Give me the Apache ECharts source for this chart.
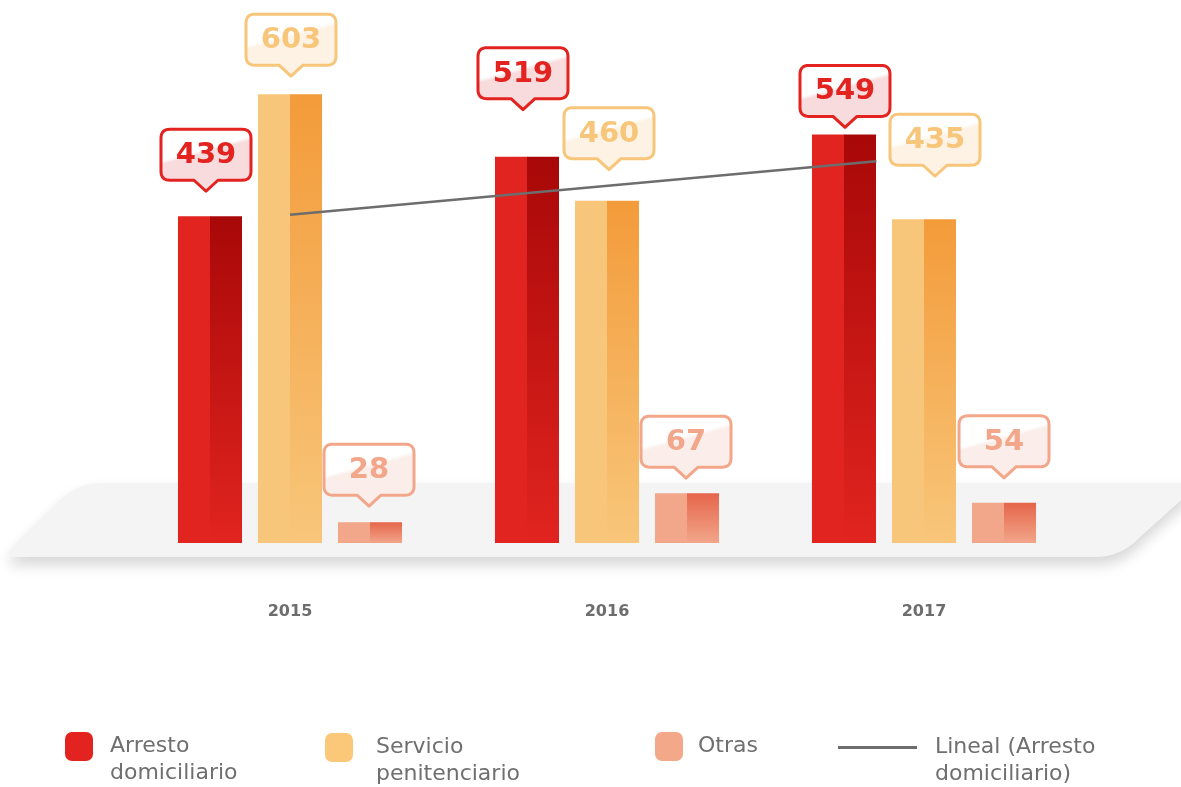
<!DOCTYPE html>
<html>
<head>
<meta charset="utf-8">
<script src="https://cdn.jsdelivr.net/npm/echarts@6/dist/echarts.min.js"></script>
<style>
html,body{margin:0;padding:0;background:#ffffff;}
#chart{width:1181px;height:787px;}
</style>
</head>
<body>
<div id="chart"></div>
<script>
// ---- data ----
const categories = ['2015', '2016', '2017'];
const arresto = [439, 519, 549];
const servicio = [603, 460, 435];
const otras = [28, 67, 54];
// linear trend of "Arresto domiciliario" (x in years, y in value)
const trendYears = [2015, 2016.85];
const trendValues = [441, 513];
const seriesNames = ['Arresto\ndomiciliario', 'Servicio\npenitenciario', 'Otras', 'Lineal (Arresto\ndomiciliario)'];

// ---- layout of the value callouts (pixels above bar top, horizontal shift) ----
const calloutLift = { arresto: [25, 47, 7], servicio: [18, 31, 43], otras: [16, 15, 25] };
const calloutShift = { arresto: [-4, -4, 1], servicio: [1, 2, 11], otras: [-1, -1, 0] };

const palettes = {
  arresto:  { left: '#e1241f', dark: '#a80808', border: '#e2231f', tint: '#f8dcdd', text: '#e2231f', legend: '#e2231f' },
  servicio: { left: '#f8c67a', dark: '#f39b3a', border: '#f8c67a', tint: '#fdf2e4', text: '#f8c67a', legend: '#fac878' },
  otras:    { left: '#f2a68a', dark: '#e5654a', border: '#f2a68a', tint: '#fbeeea', text: '#f2a68a', legend: '#f3a88a' }
};

function makeRender(key, slot) {
  const pal = palettes[key];
  return function (params, api) {
    const i = api.value(0);
    const v = api.value(1);
    const band = api.size([1, 0])[0];
    const base = api.coord([i, 0]);
    const top = api.coord([i, v]);
    const w = band * 0.202;
    const cx = base[0] + slot * band * 0.2524;
    const x0 = cx - w / 2;
    const h = base[1] - top[1];
    const di = params.dataIndex;
    const children = [
      { type: 'rect', shape: { x: x0, y: top[1], width: w / 2 + 0.5, height: h }, style: { fill: pal.left } },
      { type: 'rect', shape: { x: cx, y: top[1], width: w / 2, height: h },
        style: { fill: new echarts.graphic.LinearGradient(0, 0, 0, 1, [
          { offset: 0, color: pal.dark }, { offset: 1, color: pal.left } ]) } }
    ];
    // speech-bubble callout
    const tipY = top[1] - calloutLift[key][di];
    const bx = cx + calloutShift[key][di];
    const BW = 90, BH = 51, PH = 11, PW = 12, R = 9;
    const B = tipY - PH, T = B - BH, L = bx - BW / 2, RR = bx + BW / 2;
    const pts = [];
    pushCorner(pts, [L, T + R], [L, T], [L + R, T]);
    pushCorner(pts, [RR - R, T], [RR, T], [RR, T + R]);
    pushCorner(pts, [RR, B - R], [RR, B], [RR - R, B]);
    pts.push([bx + PW, B], [bx, tipY], [bx - PW, B]);
    pushCorner(pts, [L + R, B], [L, B], [L, B - R]);
    children.push({
      type: 'polygon', shape: { points: pts },
      style: {
        fill: new echarts.graphic.LinearGradient(0, 0, 0.278, 1.452, [
          { offset: 0, color: '#ffffff' }, { offset: 0.33, color: '#ffffff' },
          { offset: 0.37, color: pal.tint }, { offset: 1, color: pal.tint } ]),
        stroke: pal.border, lineWidth: 3, lineJoin: 'round'
      }
    });
    children.push({
      type: 'text',
      style: {
        text: String(v), x: bx, y: (T + B) / 2 + 1, align: 'center', verticalAlign: 'middle',
        fill: pal.text, fontFamily: 'DejaVu Sans', fontWeight: 'bold', fontSize: 29
      }
    });
    return { type: 'group', children: children };
  };
}

// quadratic-curve corner points
function pushCorner(pts, a, c, b) {
  const n = 8;
  for (let k = 0; k <= n; k++) {
    const t = k / n, u = 1 - t;
    pts.push([u * u * a[0] + 2 * u * t * c[0] + t * t * b[0], u * u * a[1] + 2 * u * t * c[1] + t * t * b[1]]);
  }
}

// platform (decorative backdrop)
const platformPts = [];
pushCorner(platformPts, [59.3, 500.7], [77, 483], [102, 483]);
platformPts.push([1200, 483]);
pushCorner(platformPts, [1137.7, 539.3], [1120, 557], [1095, 557]);
pushCorner(platformPts, [17, 557], [3, 557], [12.9, 547.1]);

const legendFont = { fontFamily: 'DejaVu Sans', fontSize: 22, color: '#6f6f6f', lineHeight: 27 };
function legendFor(name, left, top, padLeft, opts) {
  return Object.assign({
    show: true, left: left, top: top, padding: 0, selectedMode: false,
    data: [name],
    // a leading empty line keeps the first text line level with the icon
    formatter: function (n) { return n.indexOf('\n') >= 0 ? '\n' + n : n; },
    textStyle: Object.assign({ padding: [0, 0, 0, padLeft] }, legendFont)
  }, opts);
}

const chart = echarts.init(document.getElementById('chart'), null, { renderer: 'canvas' });
const option = {
  backgroundColor: '#ffffff',
  animation: false,
  grid: { left: 131.5, right: 98.5, top: 22, bottom: 244 },
  xAxis: [
    {
      type: 'category', data: categories,
      axisLine: { show: false }, axisTick: { show: false }, splitLine: { show: false },
      axisLabel: { margin: 61, color: '#6d6d6d', fontFamily: 'DejaVu Sans', fontWeight: 'bold', fontSize: 16 }
    },
    { type: 'value', min: 2014.5, max: 2017.5, show: false }
  ],
  yAxis: { type: 'value', min: 0, max: 700, show: false },
  graphic: [{
    type: 'polygon', z: 0, silent: true,
    shape: { points: platformPts },
    style: { fill: '#f4f4f4', shadowColor: 'rgba(0,0,0,0.16)', shadowBlur: 14, shadowOffsetY: 8 }
  }],
  legend: [
    legendFor(seriesNames[0], 65, 706, 12, { icon: 'roundRect', itemWidth: 28, itemHeight: 29 }),
    legendFor(seriesNames[1], 325, 707, 18, { icon: 'roundRect', itemWidth: 28, itemHeight: 29 }),
    legendFor(seriesNames[2], 655, 732, 10, { icon: 'roundRect', itemWidth: 28, itemHeight: 29 }),
    legendFor(seriesNames[3], 838, 707, 13, { icon: 'rect', itemWidth: 79, itemHeight: 3 })
  ],
  series: [
    { name: seriesNames[0], type: 'custom', renderItem: makeRender('arresto', -1), encode: { x: 0, y: 1 },
      itemStyle: { color: palettes.arresto.legend }, data: arresto.map((v, i) => [i, v]), z: 2 },
    { name: seriesNames[1], type: 'custom', renderItem: makeRender('servicio', 0), encode: { x: 0, y: 1 },
      itemStyle: { color: palettes.servicio.legend }, data: servicio.map((v, i) => [i, v]), z: 2 },
    { name: seriesNames[2], type: 'custom', renderItem: makeRender('otras', 1), encode: { x: 0, y: 1 },
      itemStyle: { color: palettes.otras.legend }, data: otras.map((v, i) => [i, v]), z: 2 },
    { name: seriesNames[3], type: 'line', xAxisIndex: 1, symbol: 'none', showSymbol: false, z: 5,
      lineStyle: { color: '#6d6d6d', width: 2.5 }, itemStyle: { color: '#6d6d6d' },
      data: trendYears.map((x, i) => [x, trendValues[i]]) }
  ]
};
chart.setOption(option);
</script>
</body>
</html>
